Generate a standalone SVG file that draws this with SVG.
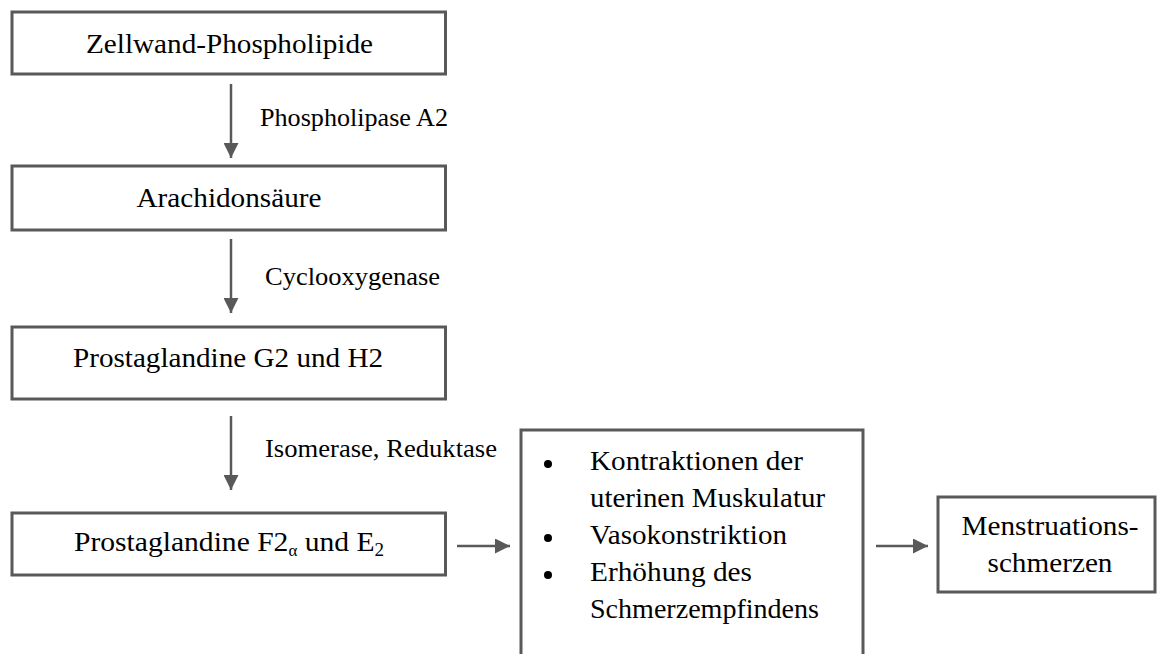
<svg xmlns="http://www.w3.org/2000/svg" width="1157" height="654" viewBox="0 0 1157 654">
<defs>
<style>
.box{fill:#fff;stroke:#595959;stroke-width:3}
.t{font-family:'Liberation Serif','Times New Roman',serif;font-size:28px;fill:#000}
.lbl{font-family:'Liberation Serif','Times New Roman',serif;font-size:25px;fill:#000}
.con{stroke:#595959;stroke-width:2.5;fill:none}
</style>
<marker id="ah" viewBox="0 0 15 15" refX="15" refY="7.5" markerWidth="15" markerHeight="15" markerUnits="userSpaceOnUse" orient="auto">
<path d="M0,0 L15,7.5 L0,15 Z" fill="#595959"/>
</marker>
</defs>
<rect width="1157" height="654" fill="#fff"/>
<g id="n1">
<rect class="box" x="12" y="12" width="433.5" height="62"/>
<text class="t" x="229.5" y="53" text-anchor="middle" textLength="287" lengthAdjust="spacingAndGlyphs">Zellwand-Phospholipide</text>
</g>
<g id="n2">
<rect class="box" x="12" y="166" width="433.5" height="64"/>
<text class="t" x="229" y="207" text-anchor="middle" textLength="185" lengthAdjust="spacingAndGlyphs">Arachidonsäure</text>
</g>
<g id="n3">
<rect class="box" x="12" y="327" width="433.5" height="72"/>
<text class="t" x="228" y="367" text-anchor="middle" textLength="310" lengthAdjust="spacingAndGlyphs">Prostaglandine G2 und H2</text>
</g>
<g id="n4">
<rect class="box" x="12" y="513" width="433.5" height="62"/>
<text class="t" x="229" y="551" text-anchor="middle" textLength="310" lengthAdjust="spacingAndGlyphs">Prostaglandine F2<tspan font-size="16" dy="5">α</tspan><tspan dy="-5"> und E</tspan><tspan font-size="18" dy="5">2</tspan></text>
</g>
<g id="n5">
<rect class="box" x="521" y="430" width="342" height="300"/>
<circle cx="548" cy="464" r="4" fill="#000"/>
<circle cx="548" cy="538" r="4" fill="#000"/>
<circle cx="548" cy="575" r="4" fill="#000"/>
<text class="t" x="590" y="470" textLength="213" lengthAdjust="spacingAndGlyphs">Kontraktionen der</text>
<text class="t" x="590" y="507" textLength="235" lengthAdjust="spacingAndGlyphs">uterinen Muskulatur</text>
<text class="t" x="590" y="544" textLength="197" lengthAdjust="spacingAndGlyphs">Vasokonstriktion</text>
<text class="t" x="590" y="581" textLength="162" lengthAdjust="spacingAndGlyphs">Erhöhung des</text>
<text class="t" x="590" y="618" textLength="229" lengthAdjust="spacingAndGlyphs">Schmerzempfindens</text>
</g>
<g id="n6">
<rect class="box" x="938" y="497" width="217" height="95"/>
<text class="t" x="1050" y="535" text-anchor="middle" textLength="177" lengthAdjust="spacingAndGlyphs">Menstruations-</text>
<text class="t" x="1050" y="572" text-anchor="middle" textLength="125" lengthAdjust="spacingAndGlyphs">schmerzen</text>
</g>
<g id="connectors">
<line class="con" x1="231" y1="84" x2="231" y2="158" marker-end="url(#ah)"/>
<line class="con" x1="231" y1="239" x2="231" y2="313" marker-end="url(#ah)"/>
<line class="con" x1="231" y1="416" x2="231" y2="490" marker-end="url(#ah)"/>
<line class="con" x1="457" y1="546" x2="510" y2="546" marker-end="url(#ah)"/>
<line class="con" x1="876" y1="546" x2="928" y2="546" marker-end="url(#ah)"/>
<text class="lbl" x="260" y="126" textLength="188" lengthAdjust="spacingAndGlyphs">Phospholipase A2</text>
<text class="lbl" x="265" y="285" textLength="175" lengthAdjust="spacingAndGlyphs">Cyclooxygenase</text>
<text class="lbl" x="265" y="457" textLength="232" lengthAdjust="spacingAndGlyphs">Isomerase, Reduktase</text>
</g>
</svg>
